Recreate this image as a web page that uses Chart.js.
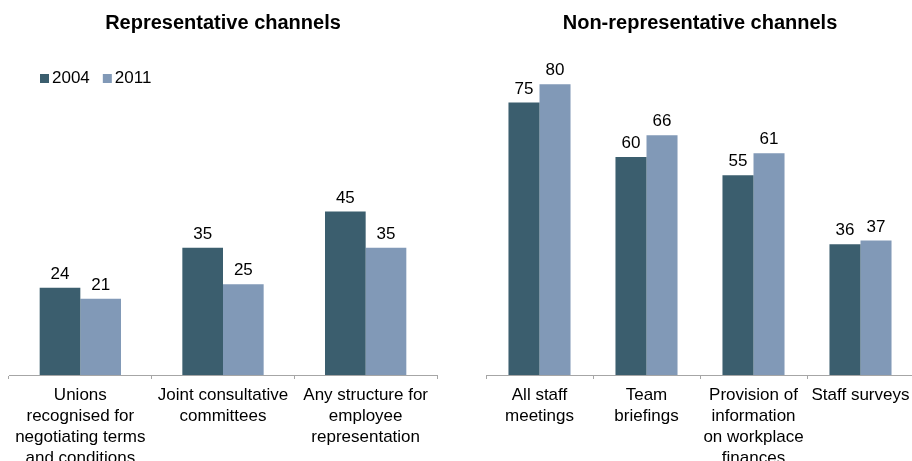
<!DOCTYPE html>
<html>
<head>
<meta charset="utf-8">
<script src="https://cdn.jsdelivr.net/npm/chart.js@4"></script>
<style>
  html, body { margin: 0; padding: 0; background: #fff; overflow: hidden; }
  body { width: 912px; height: 461px; position: relative; }
  canvas { position: absolute; top: 0; }
  #repChart { left: 0; }
  #nonRepChart { left: 472px; }
</style>
</head>
<body>
<canvas id="repChart" width="446" height="461"></canvas>
<canvas id="nonRepChart" width="456" height="461"></canvas>
<script>
const years = ['2004', '2011'];

const repCategories = [
  ['Unions', 'recognised for', 'negotiating terms', 'and conditions'],
  ['Joint consultative', 'committees'],
  ['Any structure for', 'employee', 'representation']
];
const rep2004 = [24, 35, 45];
const rep2011 = [21, 25, 35];

const nonRepCategories = [
  ['All staff', 'meetings'],
  ['Team', 'briefings'],
  ['Provision of', 'information', 'on workplace', 'finances'],
  ['Staff surveys']
];
const nonRep2004 = [75, 60, 55, 36];
const nonRep2011 = [80, 66, 61, 37];

const colours = ['#3B5E6E', '#8199B7'];
const fontFamily = '"Liberation Sans", Arial, sans-serif';

// numbers above each bar
const valueLabels = {
  id: 'valueLabels',
  afterDatasetsDraw(chart) {
    const ctx = chart.ctx;
    ctx.save();
    ctx.font = '17px ' + fontFamily;
    ctx.fillStyle = '#000';
    ctx.textAlign = 'center';
    ctx.textBaseline = 'alphabetic';
    chart.data.datasets.forEach((ds, i) => {
      chart.getDatasetMeta(i).data.forEach((bar, j) => {
        ctx.fillText(ds.data[j], bar.x, bar.y - 9);
      });
    });
    ctx.restore();
  }
};

// small square-marker legend inside the left plot
const yearLegend = {
  id: 'yearLegend',
  afterDraw(chart) {
    const ctx = chart.ctx;
    ctx.save();
    ctx.font = '17px ' + fontFamily;
    ctx.textBaseline = 'middle';
    let x = 40;
    const y = 78.5;
    chart.data.datasets.forEach(ds => {
      ctx.fillStyle = ds.backgroundColor;
      ctx.fillRect(x, y - 4.5, 9, 9);
      ctx.fillStyle = '#000';
      ctx.fillText(ds.label, x + 12, y);
      x += 12 + ctx.measureText(ds.label).width + 13;
    });
    ctx.restore();
  }
};

function makePanel(id, title, labels, first, second, pad, catPct, extra) {
  return new Chart(document.getElementById(id), {
    type: 'bar',
    data: {
      labels: labels,
      datasets: [
        { label: years[0], data: first, backgroundColor: colours[0] },
        { label: years[1], data: second, backgroundColor: colours[1] }
      ]
    },
    options: {
      responsive: false,
      animation: false,
      devicePixelRatio: 1,
      layout: { padding: { left: pad, right: pad, top: 0, bottom: 0 } },
      datasets: {
        bar: { barPercentage: 1, categoryPercentage: catPct }
      },
      plugins: {
        legend: { display: false },
        tooltip: { enabled: false },
        title: {
          display: true,
          text: title,
          color: '#000',
          font: { size: 20, weight: 'bold', family: fontFamily, lineHeight: 1.2 },
          padding: { top: 11, bottom: 13 }
        }
      },
      scales: {
        x: {
          grid: {
            display: true,
            drawOnChartArea: false,
            tickLength: 4,
            color: '#A6A6A6',
            offset: true
          },
          border: { color: '#A6A6A6' },
          ticks: {
            color: '#000',
            font: { size: 17, family: fontFamily, lineHeight: 21 / 17 },
            padding: 6,
            maxRotation: 0,
            autoSkip: false
          },
          afterFit(scale) { scale.height = 86; }
        },
        y: { display: false, min: 0, max: 90 }
      }
    },
    plugins: [valueLabels].concat(extra)
  });
}

makePanel('repChart', 'Representative channels', repCategories, rep2004, rep2011, 9, 0.57, [yearLegend]);
makePanel('nonRepChart', 'Non-representative channels', nonRepCategories, nonRep2004, nonRep2011, 14, 0.58, []);
</script>
</body>
</html>
